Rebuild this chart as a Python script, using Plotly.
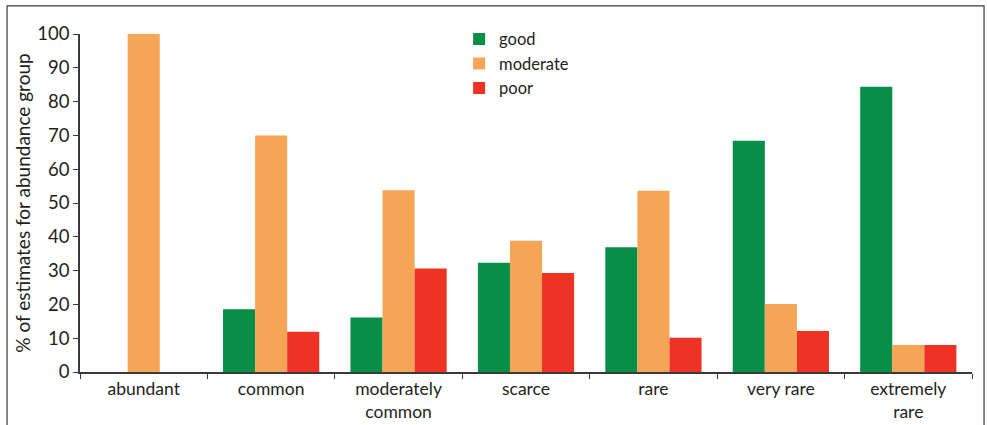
import plotly.graph_objects as go

categories = ["abundant", "common", "moderately<br>common", "scarce", "rare", "very rare", "extremely<br>rare"]
good = [0, 18.6, 16.1, 32.3, 36.9, 68.4, 84.4]
moderate = [100, 70.0, 53.8, 38.8, 53.6, 20.1, 8.0]
poor = [0, 11.9, 30.6, 29.3, 10.1, 12.1, 8.0]
y_ticks = [0, 10, 20, 30, 40, 50, 60, 70, 80, 90, 100]

FONT = "Lato, 'Open Sans', sans-serif"
TXT = "#231f20"

fig = go.Figure()
for name, vals, col in [("good", good, "#078f48"),
                        ("moderate", moderate, "#f6a557"),
                        ("poor", poor, "#ee3224")]:
    fig.add_trace(go.Bar(x=categories, y=vals, name=name,
                         marker=dict(color=col, line=dict(width=0))))

fig.update_layout(
    width=987, height=425,
    margin=dict(l=80, r=15, t=34, b=53, autoexpand=False),
    paper_bgcolor="white", plot_bgcolor="white",
    barmode="group", bargap=0.245, bargroupgap=0,
    font=dict(family=FONT, size=16, color=TXT),
    showlegend=True,
    legend=dict(x=0.425, y=1.036, xanchor="left", yanchor="top",
                font=dict(size=16.5, color=TXT), bgcolor="rgba(0,0,0,0)",
                itemwidth=30, tracegroupgap=0),
    xaxis=dict(type="category", showline=True, linecolor="#3a3a3a", linewidth=1.5,
               ticks="outside", tickson="boundaries", ticklen=5, tickcolor="#3a3a3a",
               tickfont=dict(size=17.5, color=TXT), showgrid=False, automargin=False),
    yaxis=dict(range=[0, 100], tickvals=y_ticks, showline=True, linecolor="#3a3a3a",
               linewidth=1.5, ticks="outside", ticklen=5, tickcolor="#3a3a3a",
               tickfont=dict(size=18.5, color=TXT), showgrid=False, zeroline=False,
               automargin=False,
               title=dict(text="% of estimates for abundance group",
                          font=dict(size=19, color=TXT), standoff=2)),
    shapes=[dict(type="rect", xref="paper", yref="paper",
                 x0=-0.0818, x1=1.0135, y0=-0.3, y1=1.083,
                 line=dict(color="#3a3a3a", width=1.2))],
)

fig.write_html("out.html", config={"displayModeBar": False},
               post_script="document.body.style.margin='0';")
